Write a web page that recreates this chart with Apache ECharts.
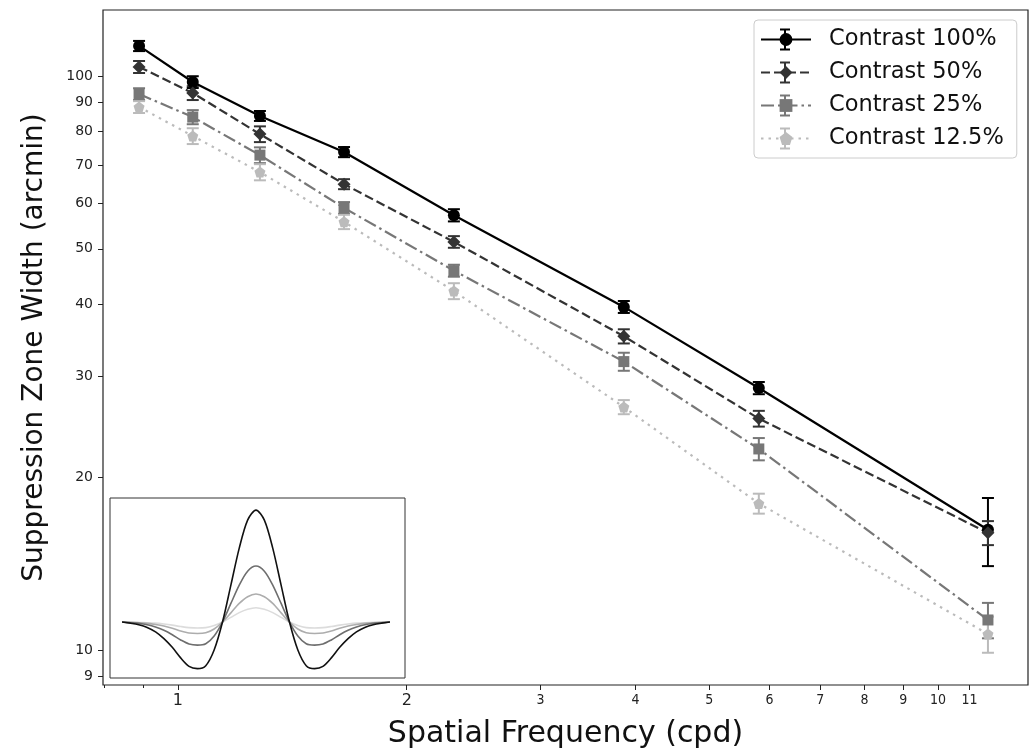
<!DOCTYPE html>
<html>
<head>
<meta charset="utf-8">
<script src="https://cdn.jsdelivr.net/npm/echarts@6/dist/echarts.min.js"></script>
<style>
  html, body { margin: 0; padding: 0; background: #fff; }
  #chart { width: 1029px; height: 750px; }
</style>
</head>
<body>
<div id="chart"></div>
<script>
// Spatial frequencies (cpd) tested
const frequencies = [0.889, 1.046, 1.282, 1.654, 2.307, 3.86, 5.81, 11.63];

// Suppression zone width (arcmin) per contrast level, with standard errors
const seriesNames = ['Contrast 100%', 'Contrast 50%', 'Contrast 25%', 'Contrast 12.5%'];
const width100 = [112.8, 97.6, 85.2, 73.7, 57.2, 39.6, 28.6, 16.2];
const err100   = [2.3, 2.3, 1.7, 1.5, 1.4, 0.95, 0.7, 2.2];
const width50  = [103.7, 93.4, 79.2, 64.8, 51.4, 35.2, 25.3, 16.0];
const err50    = [2.5, 2.6, 2.5, 1.3, 1.2, 1.0, 0.8, 0.77];
const width25  = [93.0, 84.8, 72.8, 58.9, 45.8, 31.8, 22.4, 11.28];
const err25    = [2.2, 2.4, 2.3, 1.4, 1.1, 1.15, 1.0, 0.8];
const width12  = [88.3, 78.6, 68.0, 55.7, 42.2, 26.5, 18.0, 10.66];
const err12    = [2.1, 2.5, 2.2, 1.6, 1.35, 0.75, 0.72, 0.77];

// Axis tick values
const xTickValues = [1, 2, 3, 4, 5, 6, 7, 8, 9, 10, 11];
const xMajorLabels = [1, 2];
const xMinorTicks = [0.8, 0.9];
const yTickValues = [9, 10, 20, 30, 40, 50, 60, 70, 80, 90, 100];

// Inset: stimulus luminance profiles at each contrast
const insetX = [-4, -3.75, -3.5, -3.25, -3, -2.75, -2.5, -2.25, -2, -1.75, -1.5, -1.25, -1, -0.75, -0.5, -0.25,
                0, 0.25, 0.5, 0.75, 1, 1.25, 1.5, 1.75, 2, 2.25, 2.5, 2.75, 3, 3.25, 3.5, 3.75, 4];
const profile100 = [0, -0.05, -0.12, -0.24, -0.44, -0.74, -1.13, -1.6, -1.98, -2.08, -1.95, -1.25, 0, 1.65, 3.3, 4.55,
                    5.0, 4.55, 3.3, 1.65, 0, -1.25, -1.95, -2.08, -1.98, -1.6, -1.13, -0.74, -0.44, -0.24, -0.12, -0.05, 0];
const profile50  = [0, -0.03, -0.06, -0.12, -0.22, -0.37, -0.57, -0.8, -0.98, -1.03, -0.97, -0.62, 0, 0.83, 1.65, 2.27,
                    2.5, 2.27, 1.65, 0.83, 0, -0.62, -0.97, -1.03, -0.98, -0.8, -0.57, -0.37, -0.22, -0.12, -0.06, -0.03, 0];
const profile25  = [0, -0.01, -0.03, -0.06, -0.11, -0.18, -0.28, -0.4, -0.49, -0.51, -0.48, -0.31, 0, 0.41, 0.83, 1.13,
                    1.25, 1.13, 0.83, 0.41, 0, -0.31, -0.48, -0.51, -0.49, -0.4, -0.28, -0.18, -0.11, -0.06, -0.03, -0.01, 0];
const profile12  = [0, 0, -0.015, -0.03, -0.05, -0.09, -0.14, -0.2, -0.25, -0.27, -0.25, -0.16, 0, 0.21, 0.42, 0.57,
                    0.64, 0.57, 0.42, 0.21, 0, -0.16, -0.25, -0.27, -0.25, -0.2, -0.14, -0.09, -0.05, -0.03, -0.015, 0, 0];
const insetXTicks = [-4, -3, -2, -1, 0, 1, 2, 3, 4];
const insetYTicks = [-2, -1, 0, 1, 2, 3, 4, 5];

const widths = [width100, width50, width25, width12];
const errors = [err100, err50, err25, err12];
const profiles = [profile100, profile50, profile25, profile12];

const colors = ['#000000', '#333333', '#777777', '#bbbbbb'];
const insetColors = ['#111111', '#6e6e6e', '#adadad', '#dcdcdc'];
const dashes = ['solid', [9, 4], [13, 4, 2.5, 4], [2.5, 5]];
const symbols = ['circle', 'diamond', 'rect',
  'path://M0,-1L0.951,-0.309L0.588,0.809L-0.588,0.809L-0.951,-0.309Z'];
const symbolSizes = [12, 13, 11, 11];

const font = 'DejaVu Sans, sans-serif';

const chart = echarts.init(document.getElementById('chart'), null, { renderer: 'canvas' });

// Error bars: vertical whisker with caps
function errorBarSeries(idx) {
  const data = frequencies.map((f, i) => [f, widths[idx][i] - errors[idx][i], widths[idx][i] + errors[idx][i]]);
  return {
    type: 'custom',
    xAxisIndex: 0, yAxisIndex: 0,
    z: 1,
    silent: true,
    data: data,
    renderItem: function (params, api) {
      const lo = api.coord([api.value(0), api.value(1)]);
      const hi = api.coord([api.value(0), api.value(2)]);
      const cap = 6;
      const style = { stroke: colors[idx], lineWidth: 2 };
      return {
        type: 'group',
        children: [
          { type: 'line', shape: { x1: lo[0], y1: lo[1], x2: hi[0], y2: hi[1] }, style: style },
          { type: 'line', shape: { x1: lo[0] - cap, y1: lo[1], x2: lo[0] + cap, y2: lo[1] }, style: style },
          { type: 'line', shape: { x1: hi[0] - cap, y1: hi[1], x2: hi[0] + cap, y2: hi[1] }, style: style }
        ]
      };
    },
    encode: { x: 0, y: [1, 2] }
  };
}

const series = [];
for (let k = 0; k < 4; k++) series.push(errorBarSeries(k));
for (let k = 0; k < 4; k++) {
  series.push({
    type: 'line',
    name: seriesNames[k],
    xAxisIndex: 0, yAxisIndex: 0,
    z: 3,
    data: frequencies.map((f, i) => [f, widths[k][i]]),
    symbol: symbols[k],
    symbolSize: symbolSizes[k],
    showAllSymbol: true,
    lineStyle: { color: colors[k], width: 2.2, type: dashes[k] },
    itemStyle: { color: colors[k], borderWidth: 0 },
    emphasis: { disabled: true }
  });
}
for (let k = 3; k >= 0; k--) {
  series.push({
    type: 'line',
    xAxisIndex: 2, yAxisIndex: 1,
    z: 10,
    data: insetX.map((x, i) => [x, profiles[k][i]]),
    symbol: 'none',
    smooth: 0.3,
    lineStyle: { color: insetColors[k], width: 1.6 },
    silent: true
  });
}

// Small error-bar glyphs on the legend keys
const legendGlyphs = [];
const legendRows = [39.5, 72.5, 105.5, 138.5];
legendRows.forEach((cy, k) => {
  const st = { stroke: colors[k], lineWidth: 2 };
  legendGlyphs.push(
    { type: 'line', shape: { x1: 785, y1: cy - 10, x2: 785, y2: cy + 10 }, style: st, z: 200 },
    { type: 'line', shape: { x1: 780, y1: cy - 10, x2: 790, y2: cy - 10 }, style: st, z: 200 },
    { type: 'line', shape: { x1: 780, y1: cy + 10, x2: 790, y2: cy + 10 }, style: st, z: 200 }
  );
});

const option = {
  animation: false,
  backgroundColor: '#ffffff',
  textStyle: { fontFamily: font },
  grid: [
    { left: 103, right: 1, top: 10, bottom: 65, show: true, borderColor: '#222', borderWidth: 1.2,
      backgroundColor: 'transparent', outerBoundsMode: 'none', containLabel: false },
    { left: 110, top: 498, width: 295, height: 180, show: true, borderColor: '#333', borderWidth: 1,
      backgroundColor: '#ffffff', z: 5, outerBoundsMode: 'none', containLabel: false }
  ],
  legend: {
    data: seriesNames,
    orient: 'vertical',
    left: 754, top: 20,
    padding: [6.5, 13, 6.5, 6],
    itemWidth: 50, itemHeight: 16,
    itemGap: 7,
    backgroundColor: '#ffffff',
    borderColor: '#cccccc', borderWidth: 1, borderRadius: 4,
    textStyle: { fontFamily: font, fontSize: 22.5, color: '#111', lineHeight: 26, padding: [0, 0, 0, 13] },
    selectedMode: false,
    z: 100
  },
  xAxis: [
    {
      type: 'log', gridIndex: 0, min: 0.797, max: 13.13, logBase: 10,
      position: 'bottom',
      axisLine: { show: false },
      splitLine: { show: false },
      axisTick: { show: true, length: 5, lineStyle: { color: '#222' }, customValues: xTickValues },
      axisLabel: {
        customValues: xTickValues,
        margin: 8,
        formatter: function (v) {
          const n = Math.round(v);
          return xMajorLabels.indexOf(n) >= 0 ? '{big|' + n + '}' : '{small|' + n + '}';
        },
        rich: {
          big: { fontFamily: font, fontSize: 16, color: '#222' },
          small: { fontFamily: 'DejaVu Sans Condensed, DejaVu Sans, sans-serif', fontSize: 14, color: '#222' }
        }
      },
      name: 'Spatial Frequency (cpd)',
      nameLocation: 'middle',
      nameGap: 34,
      nameTextStyle: { fontFamily: font, fontSize: 30, color: '#111' }
    },
    {
      type: 'log', gridIndex: 0, min: 0.797, max: 13.13, logBase: 10,
      position: 'bottom',
      axisLine: { show: false }, splitLine: { show: false },
      axisTick: { show: true, length: 3, lineStyle: { color: '#222' }, customValues: xMinorTicks },
      axisLabel: { show: false }
    },
    {
      type: 'value', gridIndex: 1, min: -4.36, max: 4.45,
      position: 'bottom',
      axisLine: { show: false }, splitLine: { show: false },
      axisTick: { show: true, length: 3, lineStyle: { color: '#333' }, customValues: insetXTicks },
      axisLabel: { show: false }
    }
  ],
  yAxis: [
    {
      type: 'log', gridIndex: 0, min: 8.69, max: 130.3, logBase: 10,
      axisLine: { show: false }, splitLine: { show: false },
      axisTick: { show: true, length: 5, lineStyle: { color: '#222' }, customValues: yTickValues },
      axisLabel: { customValues: yTickValues, margin: 10, fontFamily: font, fontSize: 14, color: '#222',
        formatter: function (v) { return String(Math.round(v)); } },
      name: 'Suppression Zone Width (arcmin)',
      nameLocation: 'middle',
      nameGap: 54,
      nameTextStyle: { fontFamily: font, fontSize: 28, color: '#111' }
    },
    {
      type: 'value', gridIndex: 1, min: -2.5, max: 5.54,
      axisLine: { show: false }, splitLine: { show: false },
      axisTick: { show: true, length: 3, lineStyle: { color: '#333' }, customValues: insetYTicks },
      axisLabel: { show: false }
    }
  ],
  graphic: legendGlyphs,
  series: series
};

chart.setOption(option);
</script>
</body>
</html>
